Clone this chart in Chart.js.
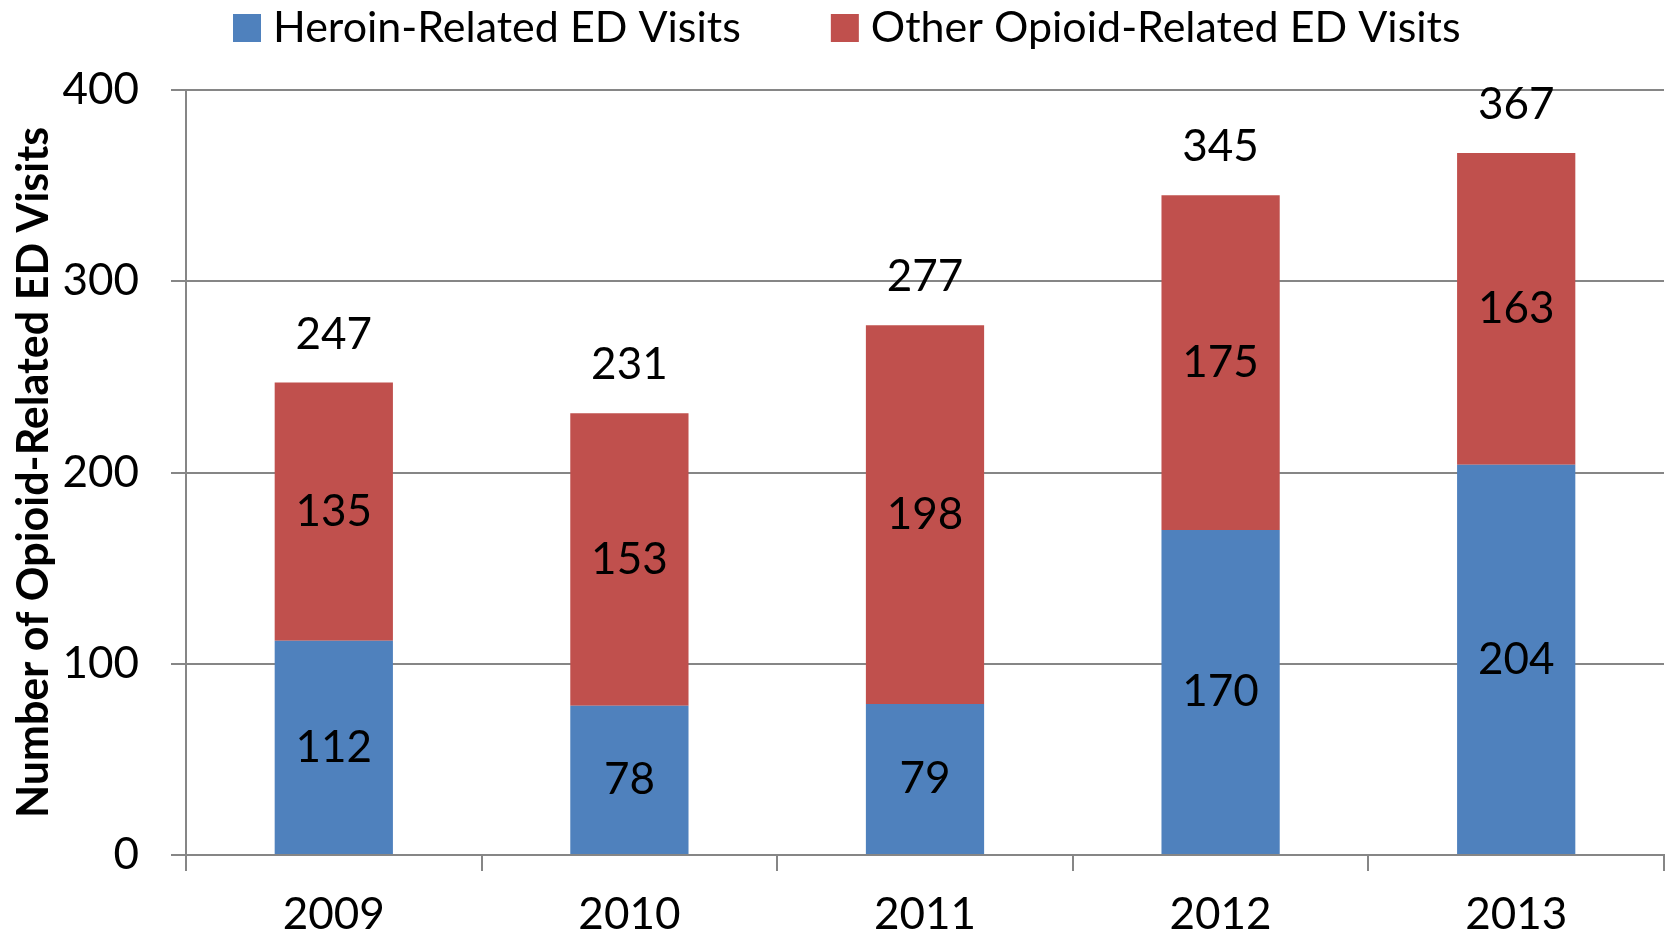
<!DOCTYPE html>
<html>
<head>
    <title>Opioid-Related ED Visits</title>
    <script src="https://cdn.jsdelivr.net/npm/chart.js"></script>
    <style>
        body { margin: 0; background: #fff; }
        #wrap { width: 1673px; height: 935px; }
    </style>
</head>
<body>
    <div id="wrap"><canvas id="myChart"></canvas></div>
    <script>
        const years = ['2009', '2010', '2011', '2012', '2013'];
        const heroinVisits = [112, 78, 79, 170, 204];
        const otherOpioidVisits = [135, 153, 198, 175, 163];
        const totalVisits = [247, 231, 277, 345, 367];
        const yTicks = [0, 100, 200, 300, 400];

        const FONT = 'Lato';
        const FONT_SIZE = 44;

        // numbers inside each segment, totals above the stacks
        const barLabels = {
            id: 'barLabels',
            afterDatasetsDraw(chart) {
                const ctx = chart.ctx;
                ctx.save();
                ctx.font = FONT_SIZE + 'px ' + FONT;
                ctx.fillStyle = '#000';
                ctx.textAlign = 'center';
                ctx.textBaseline = 'middle';
                chart.data.datasets.forEach((ds, i) => {
                    const meta = chart.getDatasetMeta(i);
                    meta.data.forEach((bar, j) => {
                        ctx.fillText(ds.data[j], bar.x, (bar.y + bar.base) / 2);
                    });
                });
                const top = chart.getDatasetMeta(chart.data.datasets.length - 1);
                top.data.forEach((bar, j) => {
                    ctx.fillText(totalVisits[j], bar.x, bar.y - 48);
                });
                ctx.restore();
            }
        };

        // simple legend row along the top (built-in one pads too much vertically)
        const topLegend = {
            id: 'topLegend',
            afterDraw(chart) {
                const ctx = chart.ctx;
                ctx.save();
                ctx.font = '43px ' + FONT;
                ctx.textBaseline = 'middle';
                ctx.textAlign = 'left';
                let x = 233;
                const y = 28;
                chart.data.datasets.forEach((ds) => {
                    ctx.fillStyle = ds.backgroundColor;
                    ctx.fillRect(x, y - 14, 28, 28);
                    ctx.fillStyle = '#000';
                    ctx.fillText(ds.label, x + 40, y);
                    x += 40 + ctx.measureText(ds.label).width + 90;
                });
                ctx.restore();
            }
        };

        const ctx = document.getElementById('myChart').getContext('2d');
        const myChart = new Chart(ctx, {
            type: 'bar',
            data: {
                labels: years,
                datasets: [{
                    label: 'Heroin-Related ED Visits',
                    data: heroinVisits,
                    backgroundColor: '#4F81BD',
                    barPercentage: 0.4,
                    categoryPercentage: 1
                }, {
                    label: 'Other Opioid-Related ED Visits',
                    data: otherOpioidVisits,
                    backgroundColor: '#C0504D',
                    barPercentage: 0.4,
                    categoryPercentage: 1
                }]
            },
            options: {
                responsive: true,
                maintainAspectRatio: false,
                animation: false,
                layout: { padding: { left: 0, right: 9, top: 90, bottom: 0 } },
                plugins: {
                    legend: { display: false },
                    tooltip: { enabled: false }
                },
                scales: {
                    x: {
                        stacked: true,
                        grid: {
                            drawOnChartArea: false,
                            drawTicks: true,
                            tickLength: 16,
                            color: '#868686',
                            lineWidth: 2
                        },
                        border: { color: '#868686', width: 2 },
                        ticks: {
                            font: { family: FONT, size: FONT_SIZE },
                            color: '#000',
                            padding: 17
                        },
                        afterFit(scale) { scale.height = 80; }
                    },
                    y: {
                        stacked: true,
                        min: 0,
                        max: 400,
                        afterBuildTicks(scale) {
                            scale.ticks = yTicks.map(v => ({ value: v }));
                        },
                        grid: {
                            color: '#868686',
                            lineWidth: 2,
                            tickLength: 15
                        },
                        border: { color: '#868686', width: 2 },
                        ticks: {
                            font: { family: FONT, size: FONT_SIZE },
                            color: '#000',
                            padding: 32
                        },
                        title: {
                            display: true,
                            text: 'Number of Opioid-Related ED Visits',
                            font: { family: FONT, size: 43, weight: 'bold' },
                            color: '#000',
                            padding: { top: 8, bottom: 0 }
                        },
                        afterFit(scale) { scale.width = 186; }
                    }
                }
            },
            plugins: [barLabels, topLegend]
        });
    </script>
</body>
</html>
